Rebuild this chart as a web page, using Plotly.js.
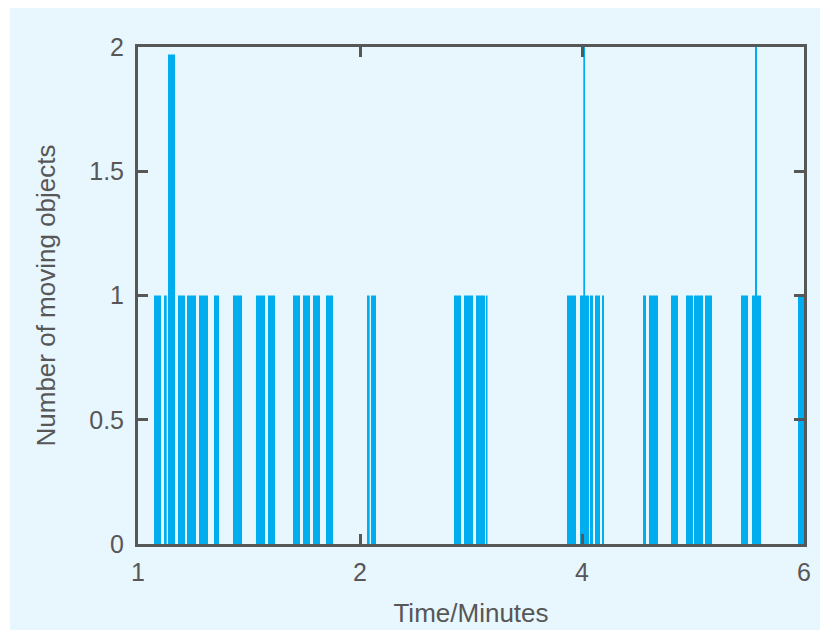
<!DOCTYPE html>
<html>
<head>
<meta charset="utf-8">
<script src="https://cdn.plot.ly/plotly-3.0.1.min.js"></script>
<style>
  html, body { margin: 0; padding: 0; background: #ffffff; width: 829px; height: 638px; overflow: hidden; }
  #chart { position: absolute; left: 10px; top: 8px; width: 810px; height: 622px; }
</style>
</head>
<body>
<div id="chart"></div>
<script>
// Bin edges on the x axis (axis units: 0..3 labelled 1, 2, 4, 6 minutes)
const binStart = [0.0721, 0.1171, 0.1351, 0.1802, 0.2207, 0.2748, 0.3423, 0.4279, 0.5315, 0.5856,
                  0.6982, 0.7432, 0.7883, 0.8468, 1.0315, 1.0495, 1.4234, 1.4685, 1.5225, 1.5676,
                  1.9324, 1.9910, 2.0059, 2.0360, 2.0586, 2.0901, 2.2748, 2.3018, 2.4009, 2.4685,
                  2.5045, 2.5541, 2.7162, 2.7658, 2.7793, 2.9730];
const binEnd   = [0.1036, 0.1293, 0.1667, 0.2117, 0.2613, 0.3153, 0.3649, 0.4685, 0.5721, 0.6171,
                  0.7297, 0.7748, 0.8198, 0.8784, 1.0437, 1.0721, 1.4550, 1.5090, 1.5631, 1.5743,
                  1.9730, 2.0315, 2.0135, 2.0495, 2.0811, 2.0991, 2.2883, 2.3423, 2.4324, 2.5000,
                  2.5450, 2.5856, 2.7477, 2.8063, 2.7883, 3.0045];
const counts   = [1, 1, 1.97, 1, 1, 1, 1, 1, 1, 1,
                  1, 1, 1, 1, 1, 1, 1, 1, 1, 1,
                  1, 1, 2, 1, 1, 1, 1, 1, 1, 1,
                  1, 1, 1, 1, 2, 1];
const tickPositions = [0, 1, 2, 3];
const tickLabels = ['1', '2', '4', '6'];
const yTicks = [0, 0.5, 1, 1.5, 2];
const yTickLabels = ['0', '0.5', '1', '1.5', '2'];

const centers = binStart.map((s, i) => (s + binEnd[i]) / 2);
const widths = binStart.map((s, i) => binEnd[i] - s);

const bg = '#e8f6fd';
const ink = '#575757';

const trace = {
  type: 'bar',
  x: centers,
  y: counts,
  width: widths,
  marker: { color: '#00aeef', line: { width: 0 } },
  hoverinfo: 'x+y'
};

const layout = {
  width: 810,
  height: 622,
  paper_bgcolor: bg,
  plot_bgcolor: bg,
  margin: { l: 128, r: 16, t: 39, b: 86 },
  barmode: 'overlay',
  showlegend: false,
  font: { family: 'Liberation Sans, Arial, sans-serif', size: 25, color: ink },
  xaxis: {
    range: [0, 3],
    tickmode: 'array',
    tickvals: tickPositions,
    ticktext: tickLabels,
    ticks: 'inside',
    ticklen: 10,
    tickwidth: 3,
    tickcolor: ink,
    showline: true,
    linecolor: ink,
    linewidth: 3,
    mirror: 'allticks',
    showgrid: false,
    zeroline: false,
    ticklabelstandoff: 4,
    tickfont: { size: 25, color: ink },
    title: { text: 'Time/Minutes', font: { size: 26, color: ink }, standoff: 19 }
  },
  yaxis: {
    range: [0, 2],
    tickmode: 'array',
    tickvals: yTicks,
    ticktext: yTickLabels,
    ticks: 'inside',
    ticklen: 10,
    tickwidth: 3,
    tickcolor: ink,
    showline: true,
    linecolor: ink,
    linewidth: 3,
    mirror: 'allticks',
    showgrid: false,
    zeroline: false,
    ticklabelstandoff: 6,
    tickfont: { size: 25, color: ink },
    title: { text: 'Number of moving objects', font: { size: 26, color: ink }, standoff: 27 }
  }
};

Plotly.newPlot('chart', [trace], layout, { displayModeBar: false, staticPlot: true });
</script>
</body>
</html>
